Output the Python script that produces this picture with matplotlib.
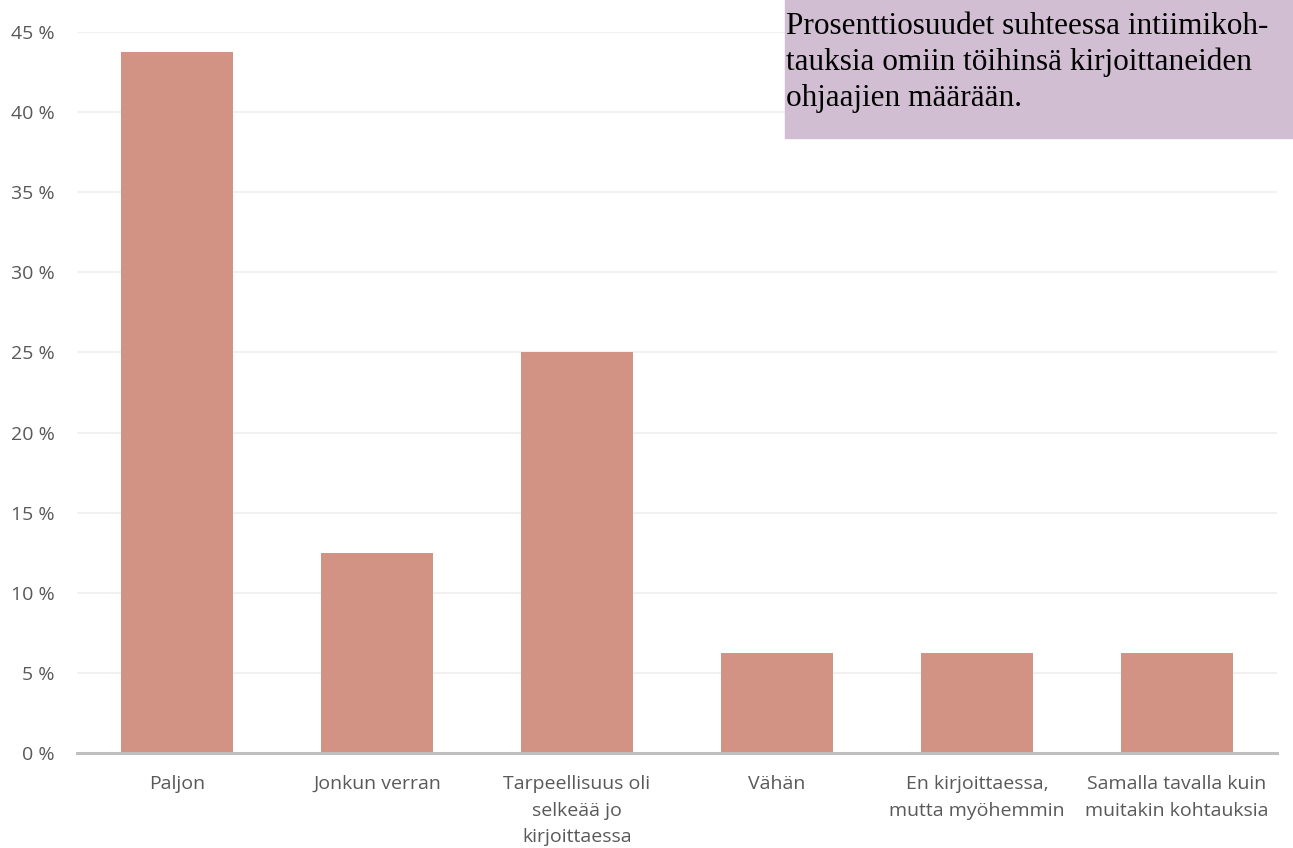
import matplotlib.pyplot as plt
from matplotlib.ticker import FuncFormatter

categories = [
    "Paljon",
    "Jonkun verran",
    "Tarpeellisuus oli\nselkeää jo\nkirjoittaessa",
    "Vähän",
    "En kirjoittaessa,\nmutta myöhemmin",
    "Samalla tavalla kuin\nmuitakin kohtauksia",
]
shares = [43.75, 12.5, 25.0, 6.25, 6.25, 6.25]
yticks = [0, 5, 10, 15, 20, 25, 30, 35, 40, 45]
title = ("Prosenttiosuudet suhteessa intiimikoh-\n"
         "tauksia omiin töihinsä kirjoittaneiden\n"
         "ohjaajien määrään.")

plt.rcParams["font.family"] = ["Open Sans", "DejaVu Sans"]

fig = plt.figure(figsize=(12.93, 8.48), dpi=100)
ax = fig.add_axes([0.0596, 0.112, 0.928, 0.8502])

xs = range(len(categories))
ax.bar(xs, shares, width=0.56, color="#D39384", zorder=2)

ax.set_xlim(-0.5, len(categories) - 0.5)
ax.set_ylim(0, 45)
ax.set_yticks(yticks)
ax.yaxis.set_major_formatter(FuncFormatter(lambda v, p: f"{v:.0f} %"))
ax.set_xticks(list(xs))
ax.set_xticklabels(categories, linespacing=1.6)
ax.tick_params(axis="both", length=0, labelsize=14, colors="#595959")
ax.tick_params(axis="x", pad=16)
ax.tick_params(axis="y", pad=16)
ax.grid(axis="y", color="#EFEFEF", linewidth=1.2, zorder=0)
for s in ["top", "right", "left"]:
    ax.spines[s].set_visible(False)
ax.spines["bottom"].set_color("#BFBFBF")
ax.spines["bottom"].set_linewidth(2.2)
ax.spines["bottom"].set_zorder(3)

fig.patches.append(plt.Rectangle((785 / 1293, 1 - 138 / 848), 1 - 785 / 1293, 138 / 848,
                                 transform=fig.transFigure, color="#D1BED3",
                                 zorder=5))
fig.text(786 / 1293, 1 - 12 / 848, title, ha="left", va="top",
         family="Liberation Serif", fontsize=22.5, linespacing=1.3,
         color="black", zorder=6)

fig.savefig("out.png", dpi=100)
